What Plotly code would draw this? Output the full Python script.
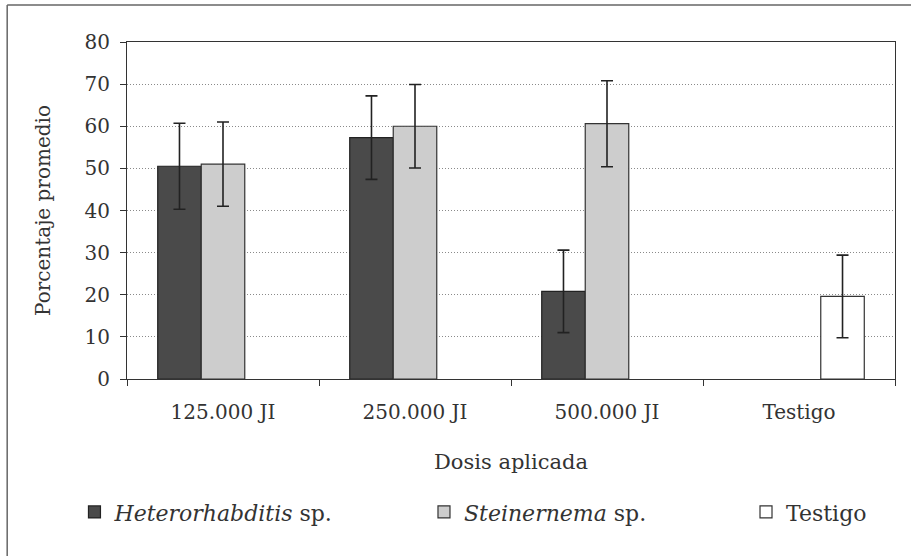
import plotly.graph_objects as go

categories = ["125.000 JI", "250.000 JI", "500.000 JI", "Testigo"]
hetero_vals = [50.5, 57.3, 20.8, None]
hetero_err = [10.2, 9.9, 9.8, None]
stein_vals = [51.0, 60.0, 60.6, None]
stein_err = [10.0, 9.9, 10.2, None]
testigo_vals = [None, None, None, 19.6]
testigo_err = [None, None, None, 9.8]
y_ticks = [0, 10, 20, 30, 40, 50, 60, 70, 80]

FONT = "DejaVu Serif"
err_style = dict(type="data", visible=True, color="#222", thickness=1.6, width=6)

fig = go.Figure()
fig.add_trace(go.Bar(
    x=categories, y=hetero_vals, name="<i>Heterorhabditis</i> sp.",
    marker=dict(color="#4a4a4a", line=dict(color="#222", width=1.2)),
    error_y=dict(array=hetero_err, **err_style), legend="legend"))
fig.add_trace(go.Bar(
    x=categories, y=stein_vals, name="<i>Steinernema</i> sp.",
    marker=dict(color="#cdcdcd", line=dict(color="#333", width=1.2)),
    error_y=dict(array=stein_err, **err_style), legend="legend2"))
fig.add_trace(go.Bar(
    x=categories, y=testigo_vals, name="Testigo",
    marker=dict(color="#ffffff", line=dict(color="#333", width=1.2)),
    error_y=dict(array=testigo_err, **err_style), legend="legend3"))

leg_common = dict(orientation="h", yanchor="middle", y=-0.395, xanchor="left",
                  font=dict(family=FONT, size=22, color="#333"),
                  bgcolor="rgba(0,0,0,0)")

frame_line = dict(color="#666", width=1.5)

fig.update_layout(
    width=911, height=556,
    margin=dict(l=127, r=16, t=42, b=177),
    paper_bgcolor="white", plot_bgcolor="white",
    showlegend=True,
    barmode="group", bargap=0.32, bargroupgap=0,
    font=dict(family=FONT, color="#333"),
    legend=dict(x=-0.0684, **leg_common),
    legend2=dict(x=0.3867, **leg_common),
    legend3=dict(x=0.806, **leg_common),
    xaxis=dict(
        type="category", showgrid=False,
        showline=True, linecolor="#333", linewidth=1.2, mirror=True,
        ticks="outside", tickson="boundaries", ticklen=6, tickcolor="#333",
        ticklabelstandoff=15,
        tickfont=dict(family=FONT, size=20, color="#333"),
        title=dict(text="Dosis aplicada", font=dict(family=FONT, size=21, color="#333"), standoff=31),
    ),
    yaxis=dict(
        range=[0, 80], tickvals=y_ticks,
        showgrid=True, gridcolor="#8a8a8a", griddash="1px,2px", gridwidth=1,
        showline=True, linecolor="#333", linewidth=1.2, mirror=True,
        ticks="outside", ticklen=6, tickcolor="#333",
        ticklabelstandoff=6,
        tickfont=dict(family=FONT, size=20, color="#333"),
        title=dict(text="Porcentaje promedio", font=dict(family=FONT, size=20, color="#333"), standoff=28),
        zeroline=False,
    ),
    shapes=[
        dict(type="line", xref="paper", yref="paper", x0=-0.156, x1=1.03, y0=1.11, y1=1.11, line=frame_line),
        dict(type="line", xref="paper", yref="paper", x0=-0.156, x1=-0.156, y0=-0.55, y1=1.11, line=frame_line),
    ],
)

# remove the default 8px page margin so the figure fills the window exactly
fig.write_html("out.html", config={"displayModeBar": False},
               post_script="document.body.style.margin='0';document.body.style.overflow='hidden';")
